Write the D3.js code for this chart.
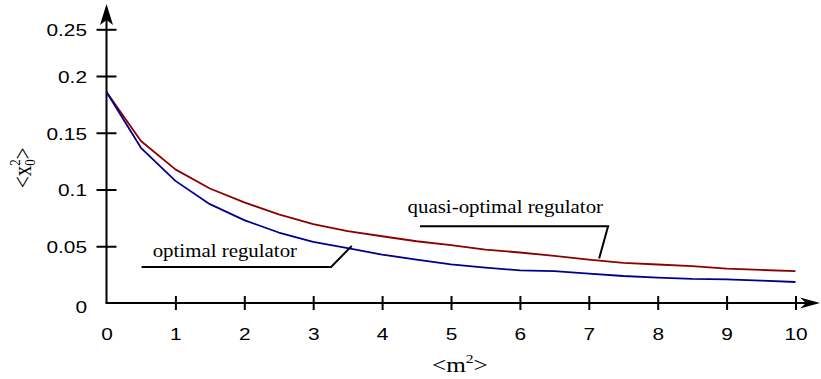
<!DOCTYPE html>
<html>
<head>
<meta charset="utf-8">
<script src="https://cdn.jsdelivr.net/npm/d3@7"></script>
<style>
  html, body { margin: 0; padding: 0; background: #fff; }
  svg { display: block; }
</style>
</head>
<body>
<svg id="chart" width="821" height="379"></svg>
<script>
// Mean square of the regulated coordinate versus <m^2>
const mValues = [0, 0.5, 1, 1.5, 2, 2.5, 3, 3.5, 4, 4.5, 5, 5.5, 6, 6.5, 7, 7.5, 8, 8.5, 9, 9.5, 10];
const quasiOptimal = [0.1859, 0.1427, 0.1177, 0.1009, 0.0886, 0.0780, 0.0694, 0.0633, 0.0588, 0.0544,
                      0.0509, 0.0471, 0.0445, 0.0415, 0.0383, 0.0353, 0.0339, 0.0324, 0.0303, 0.0291, 0.0280];
const optimal      = [0.1859, 0.1367, 0.1076, 0.0871, 0.0730, 0.0621, 0.0538, 0.0483, 0.0427, 0.0383,
                      0.0341, 0.0312, 0.0288, 0.0280, 0.0259, 0.0238, 0.0224, 0.0212, 0.0209, 0.0198, 0.0185];
const xTicks = [0, 1, 2, 3, 4, 5, 6, 7, 8, 9, 10];
const yTicks = [0, 0.05, 0.1, 0.15, 0.2, 0.25];
const yTickLabels = ["0", "0.05", "0.1", "0.15", "0.2", "0.25"];

const svg = d3.select("#chart");
const sans = "'Liberation Sans', Arial, Helvetica, sans-serif";
const serif = "'Liberation Serif', 'Times New Roman', serif";
const sansStretch = 1.28;   // wide figure lettering
const serifStretch = 1.13;

const x = d3.scaleLinear().domain([0, 10]).range([106.5, 795.5]);
const y = d3.scaleLinear().domain([0, 0.2, 0.25]).range([303, 76, 29.3]);

const x0 = x(0), y0 = y(0);

// axis lines with arrowheads
svg.append("line").attr("x1", x0).attr("y1", y0).attr("x2", x0).attr("y2", 12)
  .attr("stroke", "#000").attr("stroke-width", 2);
svg.append("path")
  .attr("d", `M${x0},4 L${x0 + 6.5},25 L${x0},20 L${x0 - 6.5},25 Z`)
  .attr("fill", "#000");
svg.append("line").attr("x1", x0 - 1).attr("y1", y0).attr("x2", 812).attr("y2", y0)
  .attr("stroke", "#000").attr("stroke-width", 2);
svg.append("path")
  .attr("d", `M820,${y0} L800,${y0 - 5.5} L806,${y0} L800,${y0 + 5.5} Z`)
  .attr("fill", "#000");

// y ticks crossing the axis
const yAxis = svg.append("g").attr("transform", `translate(${x0},0)`)
  .call(d3.axisLeft(y).tickValues(yTicks).tickSize(10)
    .tickFormat((d, i) => yTickLabels[i]));
yAxis.select(".domain").remove();
yAxis.selectAll(".tick line").attr("x1", 10).attr("x2", -10)
  .attr("stroke", "#000").attr("stroke-width", 2)
  .filter(d => d === 0).remove();
yAxis.selectAll(".tick text")
  .attr("x", 0).attr("y", 0).attr("dy", null)
  .attr("transform", d => `translate(-19.5,${d === 0 ? 9 : 6.3}) scale(${sansStretch},1)`)
  .attr("font-family", sans).attr("font-size", 16.3).attr("fill", "#000");

// x ticks crossing the axis
const xAxis = svg.append("g").attr("transform", `translate(0,${y0})`)
  .call(d3.axisBottom(x).tickValues(xTicks).tickSize(7).tickFormat(d3.format("d")));
xAxis.select(".domain").remove();
xAxis.selectAll(".tick line").attr("y1", -7).attr("y2", 7)
  .attr("stroke", "#000").attr("stroke-width", 2)
  .filter(d => d === 0).remove();
xAxis.selectAll(".tick text")
  .attr("x", 0).attr("y", 0).attr("dy", null)
  .attr("transform", `translate(0,37) scale(${sansStretch},1)`)
  .attr("font-family", sans).attr("font-size", 16.3).attr("fill", "#000");

// curves
const line = d3.line().x((d, i) => x(mValues[i])).y(d => y(d));
svg.append("path").datum(quasiOptimal).attr("d", line)
  .attr("fill", "none").attr("stroke", "#8b0000").attr("stroke-width", 1.8)
  .attr("stroke-linejoin", "round");
svg.append("path").datum(optimal).attr("d", line)
  .attr("fill", "none").attr("stroke", "#00008b").attr("stroke-width", 1.8)
  .attr("stroke-linejoin", "round");

// curve labels with leader lines (data units)
const labels = [
  { text: "quasi-optimal regulator", tx: 4.37, ty: 0.0789,
    leader: [[4.55, 0.0677], [7.28, 0.0677], [7.15, 0.0392]] },
  { text: "optimal regulator", tx: 0.67, ty: 0.0406,
    leader: [[0.51, 0.0318], [3.26, 0.0318], [3.56, 0.0503]] }
];
labels.forEach(l => {
  svg.append("text")
    .attr("transform", `translate(${x(l.tx)},${y(l.ty)}) scale(${serifStretch},1)`)
    .attr("font-family", serif).attr("font-size", 18.5).attr("fill", "#000")
    .text(l.text);
  svg.append("path")
    .attr("d", d3.line().x(p => x(p[0])).y(p => y(p[1]))(l.leader))
    .attr("fill", "none").attr("stroke", "#000").attr("stroke-width", 2);
});

// axis titles
const xt = svg.append("text").attr("transform", `translate(432,372) scale(1.2,1)`)
  .attr("font-family", serif).attr("font-size", 21).attr("fill", "#000");
xt.append("tspan").text("<m");
xt.append("tspan").attr("font-size", 13).attr("dy", -9).text("2");
xt.append("tspan").attr("dy", 9).text(">");

const yt = svg.append("text").attr("transform", "translate(31,188) rotate(-90) scale(1,1.2)")
  .attr("font-family", serif).attr("font-size", 21).attr("fill", "#000");
yt.append("tspan").text("<x");
yt.append("tspan").attr("font-size", 13).attr("dy", 3.5).text("0");
yt.append("tspan").attr("font-size", 13).attr("dx", -6.5).attr("dy", -12.5).text("2");
yt.append("tspan").attr("dy", 9).text(">");
</script>
</body>
</html>
